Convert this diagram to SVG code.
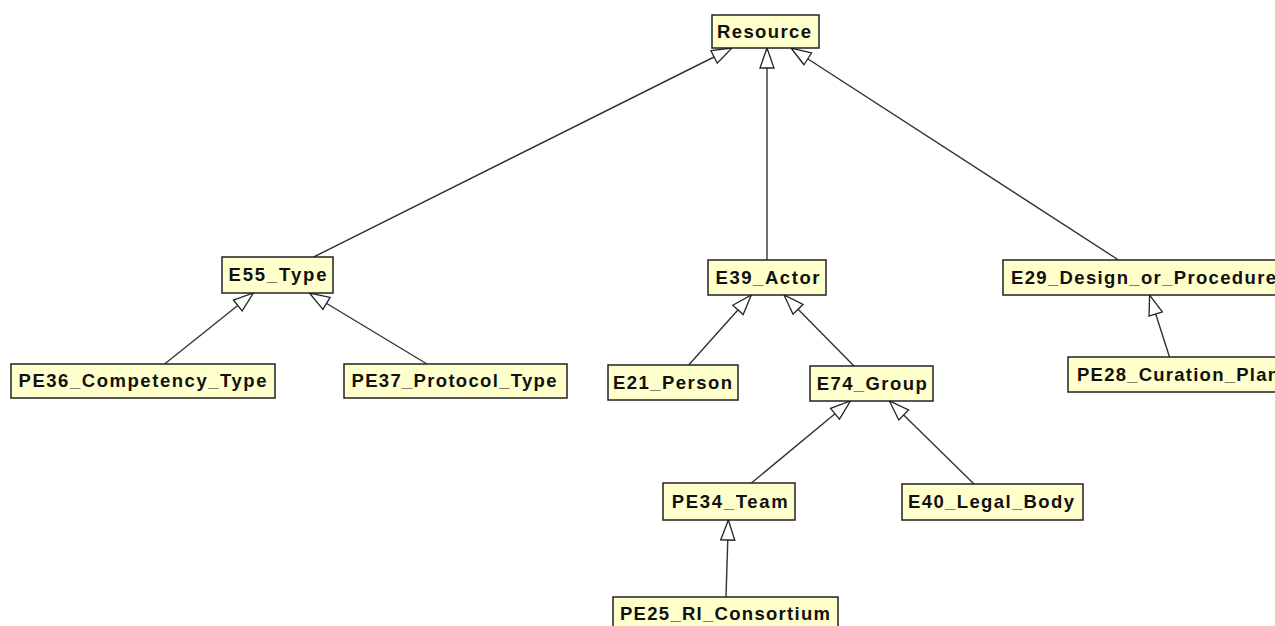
<svg xmlns="http://www.w3.org/2000/svg" width="1275" height="626" viewBox="0 0 1275 626">
<style>
.node rect{fill:#ffffcc;stroke:#222;stroke-width:1.5}
.node text{font-family:"Liberation Sans",Arial,sans-serif;font-weight:bold;font-size:18.5px;fill:#111;text-anchor:middle}
.edge{stroke:#333;stroke-width:1.4;fill:none;marker-end:url(#tri)}
</style>
<defs>
<marker id="tri" viewBox="-1 -1 22 16" refX="20" refY="7" markerWidth="22" markerHeight="16" markerUnits="userSpaceOnUse" orient="auto" overflow="visible">
<path d="M0,0 L20,7 L0,14 Z" fill="#fff" stroke="#222" stroke-width="1.3" stroke-linejoin="miter"/>
</marker>
</defs>
<rect width="1275" height="626" fill="#fff"/>
<g id="connectors">
<line class="edge" x1="313.6" y1="257" x2="732" y2="48"/>
<line class="edge" x1="767" y1="260" x2="767" y2="48"/>
<line class="edge" x1="1118.5" y1="260" x2="791" y2="48"/>
<line class="edge" x1="164.6" y1="364" x2="253.4" y2="293"/>
<line class="edge" x1="427" y1="364" x2="309.4" y2="293"/>
<line class="edge" x1="688.7" y1="365" x2="751.3" y2="295"/>
<line class="edge" x1="854" y1="366" x2="784" y2="295"/>
<line class="edge" x1="751.4" y1="483" x2="850.4" y2="401"/>
<line class="edge" x1="974" y1="484" x2="889.4" y2="401"/>
<line class="edge" x1="726" y1="597" x2="728.4" y2="520"/>
<line class="edge" x1="1169.5" y1="357" x2="1149.6" y2="295"/>
</g>
<g id="Resource" class="node"><rect x="712" y="15" width="107" height="33"/><text x="764" y="38" textLength="94" lengthAdjust="spacing">Resource</text></g>
<g id="E55_Type" class="node"><rect x="222" y="257" width="111" height="36"/><text x="277.5" y="281" textLength="98" lengthAdjust="spacing">E55_Type</text></g>
<g id="PE36_Competency_Type" class="node"><rect x="11" y="364" width="264" height="34"/><text x="142.5" y="387" textLength="248" lengthAdjust="spacing">PE36_Competency_Type</text></g>
<g id="PE37_Protocol_Type" class="node"><rect x="344" y="364" width="223" height="34"/><text x="454" y="387" textLength="205" lengthAdjust="spacing">PE37_Protocol_Type</text></g>
<g id="E39_Actor" class="node"><rect x="708" y="260" width="118" height="35"/><text x="767.5" y="284" textLength="104" lengthAdjust="spacing">E39_Actor</text></g>
<g id="E29_Design_or_Procedure" class="node"><rect x="1003" y="260" width="285" height="35"/><text x="1011" y="284" style="text-anchor:start" textLength="265" lengthAdjust="spacing">E29_Design_or_Procedure</text></g>
<g id="E21_Person" class="node"><rect x="608" y="365" width="130" height="35"/><text x="672.5" y="389" textLength="119" lengthAdjust="spacing">E21_Person</text></g>
<g id="E74_Group" class="node"><rect x="810" y="366" width="123" height="35"/><text x="871.7" y="390" textLength="110" lengthAdjust="spacing">E74_Group</text></g>
<g id="PE28_Curation_Plan" class="node"><rect x="1068" y="357" width="225" height="35"/><text x="1077" y="381" style="text-anchor:start" textLength="202" lengthAdjust="spacing">PE28_Curation_Plan</text></g>
<g id="PE34_Team" class="node"><rect x="663" y="483" width="132" height="37"/><text x="729.7" y="508" textLength="116" lengthAdjust="spacing">PE34_Team</text></g>
<g id="E40_Legal_Body" class="node"><rect x="902" y="484" width="181" height="36"/><text x="991" y="508" textLength="166" lengthAdjust="spacing">E40_Legal_Body</text></g>
<g id="PE25_RI_Consortium" class="node"><rect x="613" y="597" width="225" height="36"/><text x="725" y="620" textLength="210" lengthAdjust="spacing">PE25_RI_Consortium</text></g>
</svg>
